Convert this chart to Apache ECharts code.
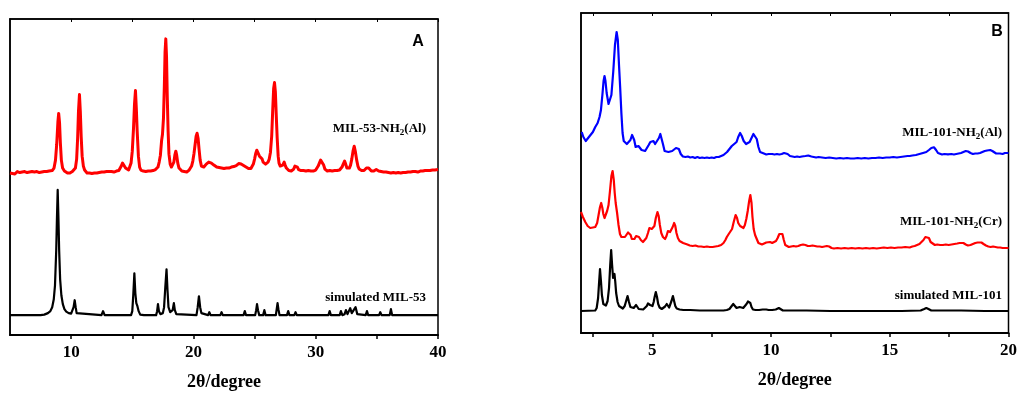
<!DOCTYPE html>
<html>
<head>
<meta charset="utf-8">
<script src="https://cdn.jsdelivr.net/npm/echarts@6/dist/echarts.min.js"></script>
<style>
  html, body { margin: 0; padding: 0; background: #fff; }
  #container { width: 1020px; height: 396px; }
</style>
</head>
<body>
<div id="container"></div>
<script>
// y values are in plot units (height above the bottom axis), offsets baked in as in the figure

// panel A: MIL-53-NH2(Al), measured
const mil53Al = [
  [5.0,163],[5.1,164.5],[5.2,162.5],[5.3,164],[5.4,162],[5.5,163.5],[5.6,164.5],[5.7,162.5],[5.8,163.5],
  [5.9,162],[6.0,164],[6.1,163],[6.2,164.5],[6.3,162.5],[6.4,163.5],[6.5,162],[6.6,164],[6.7,163],
  [6.8,164.5],[6.9,162.5],[7.0,164],[7.1,163],[7.2,164.5],[7.3,162.5],[7.4,163.5],[7.5,162.5],[7.6,164],
  [7.7,163],[7.8,164.5],[7.9,163],[8.0,164.5],[8.1,163.5],[8.2,165],[8.3,164],[8.45,165.5],[8.6,168],
  [8.72,176],[8.82,192],[8.92,215],[8.98,223],[9.05,214],[9.12,193],[9.2,176],[9.3,168],[9.45,165],
  [9.6,164.5],[9.7,163],[9.8,164.5],[9.9,163],[10.0,164],[10.1,164.5],[10.2,165],[10.35,168],[10.45,177],
  [10.53,198],[10.6,225],[10.68,242],[10.75,225],[10.82,200],[10.9,180],[11.0,170],[11.1,166],[11.2,164.5],
  [11.3,163],[11.4,164.5],[11.5,163],[11.6,164],[11.7,162.5],[11.8,164.5],[11.9,163],[12.0,164],
  [12.1,163],[12.2,165],[12.3,163.5],[12.4,165],[12.5,164],[12.6,165.5],[12.7,164],[12.8,163],[12.9,164.5],
  [13.0,163],[13.1,164.5],[13.2,163],[13.3,164.5],[13.4,163],[13.5,164],[13.6,163],[13.7,165],[13.8,164],
  [13.9,165.5],[14.0,167],[14.1,170],[14.2,173],[14.27,175],[14.35,172],[14.45,168],[14.55,166],[14.7,166],
  [14.8,168],[14.9,173],[15.0,185],[15.1,208],[15.18,232],[15.26,246],[15.33,228],[15.4,205],[15.5,180],
  [15.6,169],[15.7,166],[15.8,164.5],[15.9,165],[16.0,163.5],[16.1,164.5],[16.2,163],[16.3,165],
  [16.4,164],[16.5,165],[16.6,164],[16.7,165.5],[16.8,165],[16.9,166.5],[17.0,167],[17.1,169],[17.2,174],
  [17.3,181],[17.4,196],[17.47,202],[17.55,218],[17.62,250],[17.68,285],[17.74,298],[17.8,280],[17.86,240],
  [17.93,205],[18.0,182],[18.1,172],[18.2,169],[18.3,170],[18.4,174],[18.48,181],[18.56,185],[18.63,181],
  [18.72,173],[18.82,168],[18.95,166],[19.05,165],[19.15,166],[19.25,164.5],[19.35,165],[19.45,164],
  [19.55,165.5],[19.65,166],[19.75,167],[19.85,170],[19.95,175],[20.05,183],[20.15,193],[20.22,200],
  [20.3,203],[20.38,198],[20.46,187],[20.55,176],[20.65,170],[20.75,168],[20.85,169],[20.95,171],
  [21.05,172],[21.15,173.5],[21.25,174],[21.37,174.5],[21.47,173],[21.57,172],[21.67,171],[21.77,170.5],
  [21.9,169],[22.0,170],[22.1,168.5],[22.2,169],[22.3,168],[22.4,169],[22.5,167.5],[22.6,168.5],[22.7,168],
  [22.8,169],[22.9,168],[23.0,169.5],[23.1,169],[23.2,170],[23.3,169.5],[23.4,171],[23.5,170.5],[23.6,172],
  [23.7,172.5],[23.8,173],[23.9,172],[24.0,172],[24.1,170.5],[24.2,170],[24.3,169],[24.4,168],[24.5,167.5],
  [24.6,167],[24.7,167.5],[24.8,169],[24.9,172],[25.0,177],[25.1,183],[25.18,186],[25.24,186.5],[25.32,184],
  [25.4,180],[25.47,179],[25.54,180],[25.62,177],[25.7,174],[25.8,172],[25.9,172],[26.0,173],[26.1,174],
  [26.2,177],[26.3,184],[26.4,200],[26.48,225],[26.56,248],[26.63,254],[26.7,245],[26.77,222],[26.85,198],
  [26.93,180],[27.0,173],[27.1,170],[27.2,169],[27.3,171],[27.42,174],[27.5,171],[27.6,168],[27.7,166],
  [27.8,165.5],[27.9,166],[28.0,165],[28.1,166],[28.2,167],[28.3,170],[28.4,172],[28.5,169],[28.6,166.5],
  [28.7,165],[28.8,165.5],[28.9,164.5],[29.0,165.5],[29.1,164],[29.2,165],[29.3,164],[29.4,165.5],
  [29.5,164.5],[29.6,165],[29.7,164],[29.8,165],[29.9,165],[30.0,166],[30.1,167],[30.2,170],[30.3,173],
  [30.4,176],[30.47,177],[30.55,175],[30.65,171],[30.75,167],[30.85,166],[30.95,165],[31.05,164.5],
  [31.15,165.5],[31.25,164],[31.35,165],[31.45,164.5],[31.55,165.5],[31.65,164.5],[31.75,165.5],[31.85,165],
  [31.95,166],[32.05,167],[32.15,169],[32.25,172],[32.36,175],[32.45,172],[32.55,168],[32.65,167],[32.75,168],
  [32.85,171],[32.95,177],[33.05,185],[33.15,190],[33.25,184],[33.35,176],[33.45,170],[33.55,167],
  [33.65,166],[33.75,165.5],[33.85,166],[33.95,165.5],[34.05,166],[34.15,168],[34.24,170],[34.33,168],
  [34.45,166],[34.55,165],[34.65,166],[34.75,165],[34.85,166],[34.95,166.5],[35.05,166],[35.15,165],
  [35.25,165.5],[35.35,164.5],[35.45,165],[35.55,164],[35.65,165],[35.75,164],[35.85,164.5],[35.95,163.5],
  [36.05,164.5],[36.15,163],[36.25,164.5],[36.35,163.5],[36.45,164],[36.55,163],[36.65,164.5],[36.75,163.5],
  [36.85,164],[36.95,163],[37.05,164],[37.15,163.5],[37.25,164.5],[37.35,163.5],[37.45,164.5],[37.55,164],
  [37.65,165],[37.75,164],[37.85,165],[37.95,164.5],[38.05,165.5],[38.15,164.5],[38.25,165],[38.35,164],
  [38.45,165.5],[38.55,165],[38.65,166],[38.75,165],[38.85,166],[38.95,165.5],[39.05,166.5],[39.15,165.5],
  [39.25,166],[39.35,165.5],[39.45,166.5],[39.55,166],[39.65,167],[39.75,166],[39.85,167],[40.0,166.5]
];

// panel A: simulated MIL-53
const sim53 = [
  [5,20],[7.5,20],[7.8,20.5],[8.1,22],[8.3,24],[8.45,28],[8.58,36],[8.68,50],[8.78,85],[8.84,118],[8.9,146],
  [8.96,118],[9.02,85],[9.1,56],[9.2,40],[9.32,31],[9.45,26],[9.6,23.5],[9.8,22],[10.0,21.5],[10.12,23],
  [10.2,28],[10.29,35],[10.37,28],[10.45,22],[10.6,20.5],[12.48,20],[12.61,24],[12.74,20],
  [14.9,20],[15.0,24],[15.08,40],[15.17,62],[15.25,42],[15.33,32],[15.42,29],[15.52,24],[15.65,20.5],
  [15.95,20],[16.05,22],[16.15,20],[16.95,20],[17.03,24],[17.1,31],[17.18,24],[17.3,21],[17.5,22],
  [17.6,28],[17.7,48],[17.8,66],[17.88,45],[17.96,28],[18.1,23],[18.3,25],[18.4,32],[18.48,25],[18.6,21],
  [20.25,20],[20.35,28],[20.45,39],[20.55,28],[20.65,22],[20.8,20],[21.2,20],[21.3,23],[21.4,20],
  [22.2,20],[22.3,23],[22.4,20],[24.1,20],[24.2,24],[24.3,20],[25.05,20],[25.13,25],[25.2,31],[25.28,25],
  [25.38,20],[25.7,20],[25.8,25],[25.9,20],[26.74,20],[26.81,26],[26.88,32],[26.95,26],[27.04,20],
  [27.65,20],[27.75,24],[27.85,20],[28.25,20],[28.35,23],[28.45,20],[30.05,20],[30.15,22],[30.25,20],
  [31.04,20],[31.14,24],[31.24,20],[31.96,20],[32.06,24],[32.18,20],[32.36,21],[32.47,25],[32.6,21],
  [32.72,22],[32.82,27],[32.95,22],[33.1,23],[33.26,28],[33.4,21],[34.09,20],[34.19,24],[34.29,20],
  [35.18,20],[35.28,23],[35.38,20],[36.05,20],[36.15,26],[36.25,20],[37.15,20],[37.25,22],[37.35,20],[40,20]
];

// panel B: MIL-101-NH2(Al), measured
const mil101Al = [
  [2.03,201],[2.1,196],[2.2,192],[2.3,195],[2.4,198],[2.5,201],[2.6,206],[2.7,210],[2.78,216],[2.84,223],
  [2.9,238],[2.95,252],[2.99,257],[3.03,252],[3.08,240],[3.16,229],[3.22,230],[3.28,238],[3.36,262],
  [3.43,288],[3.5,301],[3.55,293],[3.6,268],[3.65,245],[3.7,220],[3.75,200],[3.8,192],[3.87,190],
  [3.93,189],[4.0,190],[4.08,193],[4.15,198],[4.19,199],[4.24,193],[4.3,186],[4.36,184],[4.42,187],
  [4.47,185],[4.55,183],[4.62,182],[4.7,182],[4.78,184],[4.85,188],[4.92,191],[4.98,193],[5.05,192],
  [5.12,189],[5.2,191],[5.28,195],[5.34,199],[5.39,197],[5.45,189],[5.52,182],[5.6,180],[5.68,181],
  [5.76,181.5],[5.84,182],[5.92,183],[6.0,185],[6.06,186],[6.12,184],[6.2,179],[6.29,176.5],[6.4,176],
  [6.5,176.5],[6.6,175.5],[6.7,176],[6.8,175],[6.9,176],[7.0,175],[7.1,175.5],[7.2,175],[7.3,175.5],
  [7.4,175],[7.5,175.5],[7.6,175],[7.7,176],[7.8,176],[7.9,177],[8.0,178],[8.07,179],[8.15,181],
  [8.25,184],[8.35,187],[8.45,189],[8.55,191],[8.62,196],[8.7,200],[8.77,197],[8.85,192],[8.95,189],
  [9.02,188.5],[9.1,191],[9.18,195],[9.26,199],[9.33,200],[9.4,194],[9.47,186],[9.54,181],[9.62,179],
  [9.7,179.5],[9.8,178.5],[9.9,179],[9.96,178],[10.05,179],[10.15,178.5],[10.25,179],[10.35,178.5],
  [10.45,179],[10.55,180],[10.63,180.5],[10.7,179],[10.8,177],[10.9,176.5],[11.0,176],[11.1,176.5],
  [11.2,176],[11.3,176.5],[11.45,177],[11.57,177.5],[11.7,176.5],[11.8,176],[11.9,175.5],[12.0,176],
  [12.15,175.5],[12.3,175],[12.45,175.5],[12.6,175],[12.75,174.5],[12.9,175],[13.05,174.5],[13.2,175],
  [13.35,174.5],[13.5,174.5],[13.65,175],[13.8,174.5],[13.95,175],[14.1,174.5],[14.25,175],[14.4,175],
  [14.55,175.5],[14.7,175],[14.85,175.5],[15.0,175.5],[15.15,176],[15.3,175.5],[15.45,176],[15.6,176.5],
  [15.75,177],[15.84,177],[15.95,177.5],[16.1,178],[16.25,179],[16.4,180],[16.54,181],[16.65,183],
  [16.75,185],[16.86,185.7],[16.95,183],[17.03,180],[17.1,179],[17.2,178.5],[17.3,179],[17.45,178.7],
  [17.6,179],[17.7,178.5],[17.8,179],[17.9,179.5],[18.0,180],[18.1,181],[18.2,182],[18.3,181.5],
  [18.4,180],[18.5,179],[18.6,179.5],[18.7,179.5],[18.8,180],[18.9,181],[19.0,182],[19.1,182.5],
  [19.23,183],[19.32,182],[19.4,180],[19.48,179.5],[19.55,179],[19.65,179.5],[19.75,179],[19.85,180],
  [19.95,180],[20.0,180]
];

// panel B: MIL-101-NH2(Cr), measured
const mil101Cr = [
  [2.0,121],[2.08,116],[2.18,111],[2.28,107],[2.39,105],[2.5,105.5],[2.6,106],[2.68,110],[2.74,118],
  [2.8,126],[2.85,130],[2.9,125],[2.94,119],[2.99,115],[3.05,117],[3.1,122],[3.16,128],[3.22,142],
  [3.28,157],[3.33,162],[3.38,153],[3.42,140],[3.46,130],[3.52,120],[3.58,108],[3.64,99],[3.7,96],
  [3.78,95],[3.85,96],[3.92,98],[3.98,100.5],[4.03,101],[4.09,98],[4.14,94],[4.19,92],[4.25,94],
  [4.32,97],[4.38,98],[4.44,96],[4.52,93],[4.61,91],[4.68,92],[4.75,95],[4.82,100],[4.88,105],[4.93,106],
  [4.98,104],[5.03,103],[5.09,107],[5.15,115],[5.22,121],[5.27,117],[5.32,108],[5.38,100],[5.45,96],
  [5.54,94],[5.6,97],[5.66,102],[5.7,104],[5.75,101],[5.8,101],[5.86,106],[5.92,110],[5.97,107],
  [6.02,100],[6.08,95],[6.15,92],[6.22,90.5],[6.3,90],[6.38,89],[6.48,88.5],[6.58,87.5],[6.7,87],
  [6.82,87.5],[6.94,86.5],[7.06,86.5],[7.18,86],[7.3,86.5],[7.42,86],[7.54,86],[7.66,86.5],[7.78,87],
  [7.9,88],[8.0,90],[8.08,93],[8.14,96],[8.22,99],[8.3,101],[8.36,104],[8.43,111],[8.51,118],[8.57,115],
  [8.62,110],[8.7,107],[8.77,105],[8.84,105],[8.9,108],[8.96,114],[9.02,122],[9.08,132],[9.13,138],
  [9.18,130],[9.22,116],[9.27,104],[9.33,98],[9.4,94],[9.47,90],[9.54,88],[9.62,88.5],[9.7,89.5],
  [9.8,90.5],[9.88,91],[9.96,91],[10.05,90],[10.13,90.5],[10.21,92],[10.28,95],[10.35,99],[10.42,101],
  [10.48,99],[10.54,93],[10.6,88],[10.66,86.5],[10.75,86],[10.85,86.5],[10.95,87],[11.05,86.5],
  [11.15,87],[11.25,88],[11.35,88.5],[11.45,88],[11.55,87],[11.64,87],[11.75,87.5],[11.85,87],
  [11.95,86.5],[12.05,86.5],[12.15,86],[12.25,86.5],[12.35,87],[12.45,86.5],[12.55,85],[12.65,84.5],
  [12.8,85],[12.95,84.5],[13.1,85],[13.25,84.5],[13.4,85],[13.55,84.5],[13.7,85],[13.85,84.5],[14.0,85],
  [14.15,84.5],[14.3,85],[14.45,84.5],[14.6,85],[14.75,85.5],[14.9,85],[15.05,85.5],[15.2,85],
  [15.35,85.5],[15.5,85.5],[15.65,86],[15.84,85.5],[15.95,86.5],[16.05,87],[16.15,88],[16.25,89],
  [16.33,90.5],[16.42,93],[16.5,96],[16.58,98],[16.65,95],[16.72,91],[16.8,89],[16.9,88],[17.0,88.5],
  [17.12,88],[17.24,88],[17.36,88.5],[17.48,88],[17.6,88.5],[17.72,89],[17.84,89.5],[17.94,90],
  [18.01,90.5],[18.1,90],[18.2,88.5],[18.29,87.5],[18.4,88],[18.5,89],[18.6,90],[18.7,90.5],[18.78,91],
  [18.86,90.5],[18.95,89],[19.05,87.5],[19.15,86.5],[19.25,86],[19.35,86.5],[19.45,86],[19.55,85.5],
  [19.65,85.5],[19.75,85],[19.85,85],[20.0,85]
];

// panel B: simulated MIL-101
const sim101 = [
  [2.0,22],[2.6,22.5],[2.66,25],[2.72,35],[2.76,50],[2.8,64],[2.84,52],[2.88,38],[2.94,29],[2.98,27],
  [3.05,27.5],[3.12,32],[3.18,45],[3.23,68],[3.27,83],[3.31,68],[3.35,55],[3.38,56],[3.41,59],[3.44,52],
  [3.48,40],[3.54,31],[3.6,27],[3.68,25],[3.76,24.5],[3.84,27],[3.9,32],[3.96,37],[4.02,31],[4.08,26],
  [4.14,24.5],[4.22,25],[4.28,27],[4.32,28],[4.37,26],[4.43,24],[4.5,23.5],[4.62,23.5],[4.7,24.5],
  [4.77,27],[4.82,29.5],[4.86,30],[4.91,28],[4.96,26],[5.01,27],[5.06,31],[5.1,36],[5.15,41],[5.2,36],
  [5.25,29],[5.31,25.5],[5.4,24],[5.48,24.5],[5.54,26.5],[5.61,29],[5.66,27],[5.71,25.5],[5.76,27],
  [5.81,32],[5.87,37],[5.92,32],[5.97,27],[6.03,24.5],[6.15,23.5],[6.31,23],[6.6,23],[7.0,22.5],[7.5,22.5],
  [8.0,22.5],[8.14,23],[8.25,24],[8.33,26],[8.41,29],[8.48,27],[8.55,25],[8.62,25.5],[8.68,26],[8.75,25],
  [8.83,25],[8.9,26],[8.97,29],[9.03,31.5],[9.08,32],[9.13,30],[9.18,26],[9.24,23.5],[9.35,23],[9.5,23],
  [9.65,23.5],[9.8,23.5],[9.9,23],[10.05,23],[10.2,23.5],[10.28,24.5],[10.33,25],[10.4,23.5],[10.5,22.5],
  [11.0,22.5],[11.5,22.5],[12.5,22],[14.0,22],[15.5,22],[16.3,22.5],[16.45,24],[16.54,25],[16.63,24],
  [16.75,22.5],[18.0,22.5],[19.0,22],[20.0,22]
];

const ticksA = [10, 15, 20, 25, 30, 35, 40];
const labelsA = [10, 20, 30, 40];
const ticksB = [2.5, 5, 7.5, 10, 12.5, 15, 17.5, 20];
const labelsB = [5, 10, 15, 20];

const serif = '"Liberation Serif", "Times New Roman", serif';
const sans = '"Liberation Sans", Arial, sans-serif';

const myChart = echarts.init(document.getElementById('container'));

const bottomAxis = (gridIndex, min, max, ticks, labels) => ({
  type: 'value',
  gridIndex: gridIndex,
  position: 'bottom',
  min: min,
  max: max,
  name: '2θ/degree',
  nameLocation: 'middle',
  nameGap: 38,
  nameTextStyle: { fontFamily: serif, fontWeight: 'bold', fontSize: 18, color: '#000' },
  axisLine: { show: true, onZero: false, lineStyle: { color: '#000', width: 2 } },
  axisTick: { show: true, inside: false, length: 4, customValues: ticks, lineStyle: { color: '#000', width: 1.5 } },
  axisLabel: { customValues: labels, margin: 9, fontFamily: serif, fontWeight: 'bold', fontSize: 17, color: '#000' },
  splitLine: { show: false }
});

const topAxis = (gridIndex, min, max, ticks) => ({
  type: 'value',
  gridIndex: gridIndex,
  position: 'top',
  min: min,
  max: max,
  axisLine: { show: true, onZero: false, lineStyle: { color: '#000', width: 1.5 } },
  axisTick: { show: true, inside: true, length: 3, customValues: ticks, lineStyle: { color: '#000', width: 1 } },
  axisLabel: { show: false },
  splitLine: { show: false }
});

const leftAxis = (gridIndex, max) => ({
  type: 'value',
  gridIndex: gridIndex,
  min: 0,
  max: max,
  axisLine: { show: true, onZero: false, lineStyle: { color: '#000', width: 1.5 } },
  axisTick: { show: false },
  axisLabel: { show: false },
  splitLine: { show: false }
});

const line = (name, data, xi, yi, color, width) => ({
  name: name,
  type: 'line',
  xAxisIndex: xi,
  yAxisIndex: yi,
  data: data,
  showSymbol: false,
  symbol: 'none',
  smooth: false,
  animation: false,
  lineStyle: { color: color, width: width, join: 'round' }
});

const label = (x, y, text) => ({
  type: 'text',
  x: x,
  y: y,
  style: {
    text: text,
    align: 'right',
    verticalAlign: 'bottom',
    fill: '#000',
    rich: {
      a: { fontFamily: serif, fontWeight: 'bold', fontSize: 13, color: '#000' },
      s: { fontFamily: serif, fontWeight: 'bold', fontSize: 9, color: '#000', padding: [8, 0, 0, 0] }
    }
  }
});

myChart.setOption({
  animation: false,
  backgroundColor: '#fff',
  grid: [
    { left: 10, right: 582, top: 19, bottom: 59, show: true, borderColor: '#000', borderWidth: 1.5 },
    { left: 581, right: 11, top: 13, bottom: 63, show: true, borderColor: '#000', borderWidth: 1.5 }
  ],
  xAxis: [
    bottomAxis(0, 5, 40, ticksA, labelsA),
    topAxis(0, 5, 40, ticksA),
    bottomAxis(1, 2, 20, ticksB, labelsB),
    topAxis(1, 2, 20, ticksB)
  ],
  yAxis: [
    leftAxis(0, 318),
    leftAxis(1, 320)
  ],
  series: [
    line('simulated MIL-53', sim53, 0, 0, '#000', 2.2),
    line('MIL-53-NH2(Al)', mil53Al, 0, 0, '#ff0000', 3),
    line('simulated MIL-101', sim101, 2, 1, '#000', 2.2),
    line('MIL-101-NH2(Cr)', mil101Cr, 2, 1, '#ff0000', 2.2),
    line('MIL-101-NH2(Al)', mil101Al, 2, 1, '#0000ff', 2.2)
  ],
  graphic: [
    { type: 'text', x: 418, y: 42, style: { text: 'A', align: 'center', verticalAlign: 'middle', fontFamily: sans, fontWeight: 'bold', fontSize: 16, fill: '#000' } },
    { type: 'text', x: 997, y: 32, style: { text: 'B', align: 'center', verticalAlign: 'middle', fontFamily: sans, fontWeight: 'bold', fontSize: 16, fill: '#000' } },
    label(426, 137, '{a|MIL-53-NH}{s|2}{a|(Al)}'),
    label(426, 304, '{a|simulated MIL-53}'),
    label(1002, 141, '{a|MIL-101-NH}{s|2}{a|(Al)}'),
    label(1002, 230, '{a|MIL-101-NH}{s|2}{a|(Cr)}'),
    label(1002, 302, '{a|simulated MIL-101}')
  ]
});
</script>
</body>
</html>
